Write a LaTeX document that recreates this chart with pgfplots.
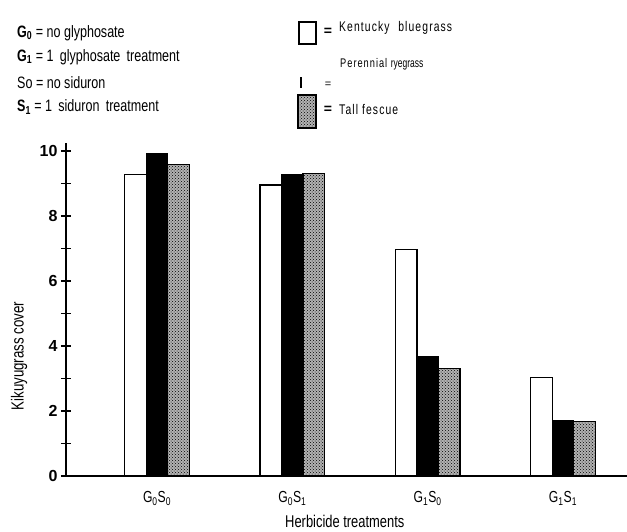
\documentclass[border=0pt]{standalone}
\usepackage{fontspec}
\setmainfont{Liberation Sans}
\newfontfamily\cf[FakeStretch=0.76]{Liberation Sans}
\newfontfamily\lf[FakeStretch=0.74,LetterSpace=8]{Liberation Sans}
\newfontfamily\nf[FakeStretch=0.68]{Liberation Sans}
\usepackage{pgfplots}
\pgfplotsset{compat=1.18}
\usetikzlibrary{patterns}

\begin{document}
\begin{tikzpicture}
\path[use as bounding box] (0pt,0pt) rectangle (627pt,-531pt);
% explanatory text
\begin{scope}[every node/.style={anchor=west,inner sep=0pt,font=\cf\fontsize{16.5}{18}\selectfont}]
\node at (17pt,-33pt) {\textbf{G}\textsubscript{\textbf{0}} = no glyphosate};
\node at (17pt,-57pt) {\textbf{G}\textsubscript{\textbf{1}} = 1\, glyphosate\, treatment};
\node at (17pt,-83pt) {So = no siduron};
\node at (17pt,-107pt) {\textbf{S}\textsubscript{\textbf{1}} = 1\, siduron\, treatment};
\end{scope}
% legend
\draw[line width=1.6pt] (299pt,-22pt) rectangle (316pt,-44pt);
\node[anchor=center,font=\bfseries\fontsize{14}{14}\selectfont] at (328pt,-32pt) {=};
\node[anchor=west,inner sep=0pt,font=\lf\fontsize{14}{14}\selectfont] at (339pt,-28pt) {Kentucky\,\, bluegrass};
\draw[line width=1.2pt] (301pt,-77pt) -- (301pt,-88pt);
\node[anchor=center,font=\fontsize{11}{11}\selectfont] at (328pt,-85pt) {=};
\node[anchor=west,inner sep=0pt,font=\fontsize{12.5}{13}\selectfont] at (340pt,-64pt) {{\lf Perennial} {\nf ryegrass}};
\draw[line width=1.6pt,fill=black!30,postaction={pattern=crosshatch dots}] (298pt,-95pt) rectangle (316pt,-128pt);
\node[anchor=center,font=\bfseries\fontsize{14}{14}\selectfont] at (328pt,-110pt) {=};
\node[anchor=west,inner sep=0pt,font=\lf\fontsize{14}{14}\selectfont] at (339pt,-109pt) {Tall fescue};

\begin{axis}[
  at={(66pt,-476pt)}, anchor=south west,
  scale only axis, width=561pt, height=333pt,
  xmin=0.3274, xmax=4.473, ymin=0, ymax=10.25,
  axis x line=bottom, axis y line=left,
  axis line style={line width=1.6pt,-},
  ytick={0,1,...,10},
  yticklabels={0,,2,,4,,6,,8,,10},
  tick align=center, major tick length=10pt,
  ytick style={line width=1.3pt,black},
  xtick={1,2,3,4},
  xticklabels={G\textsubscript{0}S\textsubscript{0},G\textsubscript{0}S\textsubscript{1},G\textsubscript{1}S\textsubscript{0},G\textsubscript{1}S\textsubscript{1}},
  xtick style={draw=none},
  xticklabel style={font=\cf\fontsize{16}{16}\selectfont, yshift=-2pt},
  yticklabel style={font=\bfseries\fontsize{16}{16}\selectfont},
  xlabel={Herbicide treatments},
  xlabel style={font=\cf\fontsize{17}{17}\selectfont, at={(axis description cs:0.497,-0.135)}, anchor=center},
  ylabel={Kikuyugrass cover},
  ylabel style={font=\cf\fontsize{17.5}{17.5}\selectfont, at={(axis description cs:-0.0838,0.36)}, anchor=center},
  ybar=0pt, bar width=21.5pt,
]
\addplot[fill=white, draw=black, line width=1.2pt] coordinates {(1,9.27) (2,8.96) (3,6.97) (4,3.03)};
\addplot[fill=black, draw=black, line width=1.2pt] coordinates {(1,9.93) (2,9.27) (3,3.68) (4,1.70)};
\addplot[fill=black!30, postaction={pattern=crosshatch dots}, draw=black, line width=1.2pt] coordinates {(1,9.60) (2,9.30) (3,3.30) (4,1.68)};
\end{axis}
\end{tikzpicture}
\end{document}
